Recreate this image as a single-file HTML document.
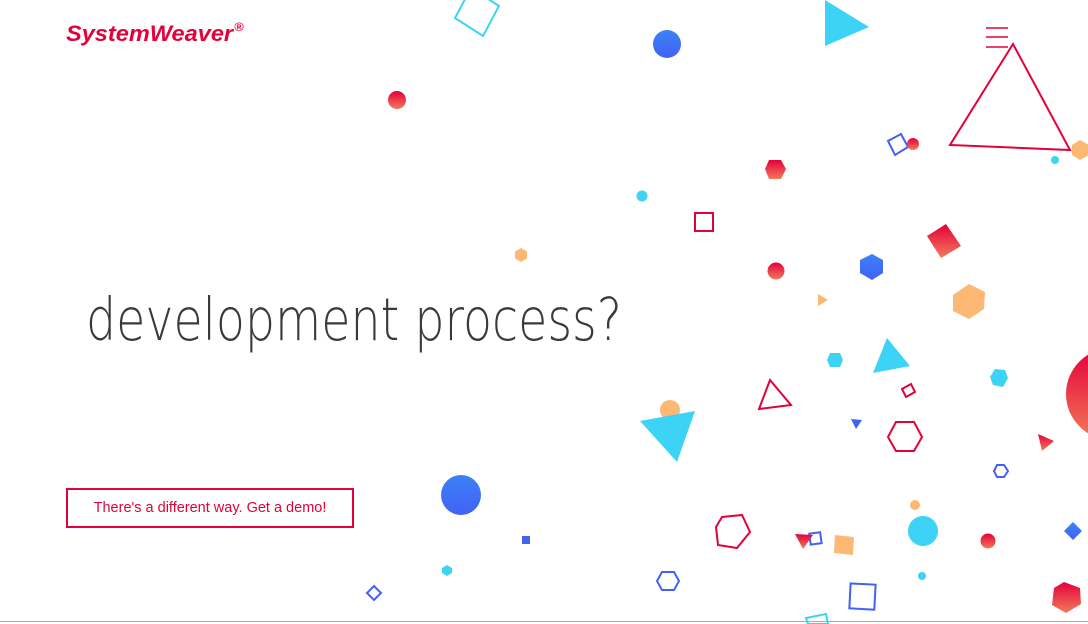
<!DOCTYPE html>
<html><head><meta charset="utf-8"><style>
html,body{margin:0;padding:0;background:#fff;width:1088px;height:624px;overflow:hidden;position:relative;font-family:"Liberation Sans",sans-serif}
.logo{position:absolute;left:66px;top:21px;font-size:22px;font-weight:bold;font-style:italic;color:#e4003a;transform:scaleX(1.07);transform-origin:0 0;white-space:nowrap}
.logo sup{font-size:12px;position:relative;top:-2px;margin-left:1px}
.btn{position:absolute;left:66px;top:488px;width:284px;height:36px;border:2px solid #e4003a;color:#e4003a;font-size:14.5px;text-align:center;line-height:37px}
svg{position:absolute;left:0;top:0}
</style></head><body>
<svg width="1088" height="624" viewBox="0 0 1088 624">
<defs>
<linearGradient id="r" x1="0" y1="0" x2="0" y2="1"><stop offset="0" stop-color="#e4003a"/><stop offset="1" stop-color="#f27a5a"/></linearGradient>
<linearGradient id="b" x1="0" y1="0" x2="0" y2="1"><stop offset="0" stop-color="#3b82f6"/><stop offset="1" stop-color="#4261f5"/></linearGradient>
</defs>
<g transform="translate(86 340) scale(1 1.15)"><text x="0" y="0" font-family="DejaVu Sans, sans-serif" font-weight="200" font-size="51" fill="#3a3a3a" textLength="536" lengthAdjust="spacingAndGlyphs">development process?</text></g>
<g fill="none" stroke-width="2">
<polygon points="455,18 483,36 499,6 471,-12" stroke="#3cd3f7"/>
<polygon points="1013,44 950,145 1070,150" stroke="#e4003a"/>
<polygon points="888,141 901,134 908,147 895,155" stroke="#4261f5"/>
<rect x="695" y="213" width="18" height="18" stroke="#e4003a"/>
<polygon points="902,389 911,384 915,392 906,397" stroke="#e4003a"/>
<polygon points="770,380 791,405 759,409" stroke="#e4003a"/>
<polygon points="896,422 914,422 922,437 914,451 896,451 888,437" stroke="#e4003a"/>
<polygon points="997,465 1004,465 1008,471 1004,477 997,477 994,471" stroke="#4261f5"/>
<polygon points="722,517 742,515 750,532 737,548 718,545 716,527" stroke="#e4003a"/>
<rect x="810" y="533" width="11" height="11" stroke="#4261f5" transform="rotate(-8 815 539)"/>
<polygon points="662,572 674,572 679,581 674,590 662,590 657,581" stroke="#4261f5"/>
<rect x="850" y="584" width="25" height="25" stroke="#4261f5" transform="rotate(3 862 596)"/>
<polygon points="374,586 381,593 374,600 367,593" stroke="#4261f5"/>
<polygon points="806,618 826,614 828,624 808,624" stroke="#3cd3f7"/>
</g>
<g stroke="#e4003a" stroke-width="1.5"><line x1="986" y1="28" x2="1008" y2="28"/><line x1="986" y1="37" x2="1008" y2="37"/><line x1="986" y1="47" x2="1008" y2="47"/></g>
<circle cx="397" cy="100" r="9" fill="url(#r)"/>
<polygon points="521,248 527,251.5 527,258.5 521,262 515,258.5 515,251.5" fill="#fdb874"/>
<circle cx="667" cy="44" r="14" fill="url(#b)"/>
<polygon points="825,0 869,27 825,46" fill="#3cd3f7"/>
<polygon points="1080,140 1089,145 1089,155 1080,160 1072,155 1072,145" fill="#fdb874"/>
<circle cx="1055" cy="160" r="4" fill="#3cd3f7"/>
<circle cx="913" cy="144" r="6" fill="url(#r)"/>
<polygon points="769,160 781,160 786,169 781,179 769,179 765,169" fill="url(#r)"/>
<circle cx="642" cy="196" r="5.5" fill="#3cd3f7"/>
<polygon points="927,236 946,224 961,246 941,258" fill="url(#r)"/>
<circle cx="776" cy="271" r="8.5" fill="url(#r)"/>
<polygon points="872,254 883,260 883,273 872,280 860,273 860,260" fill="url(#b)"/>
<polygon points="818,294 828,300 818,306" fill="#fdb874"/>
<polygon points="969,284 985,292 984,309 969,319 953,311 953,295" fill="#fdb874"/>
<polygon points="830,353 840,353 843,360 840,367 830,367 827,360" fill="#3cd3f7"/>
<polygon points="887,338 910,366 873,373" fill="#3cd3f7"/>
<polygon points="995,369 1005,370 1008,378 1003,387 993,385 990,377" fill="#3cd3f7"/>
<circle cx="1112" cy="394" r="46" fill="url(#r)"/>
<circle cx="670" cy="410" r="10" fill="#fdb874"/>
<polygon points="640,421 695,411 677,462" fill="#3cd3f7"/>
<polygon points="851,419 862,420 856,429" fill="#4261f5"/>
<polygon points="1038,434 1054,441 1042,451" fill="url(#r)"/>
<circle cx="461" cy="495" r="20" fill="url(#b)"/>
<circle cx="915" cy="505" r="5" fill="#fdb874"/>
<polygon points="795,534 813,535 803,549" fill="url(#r)"/>
<polygon points="835,535 854,537 853,555 834,553" fill="#fdb874"/>
<circle cx="923" cy="531" r="15" fill="#3cd3f7"/>
<circle cx="988" cy="541" r="7.5" fill="url(#r)"/>
<polygon points="1073,522 1082,531 1073,540 1064,531" fill="url(#b)"/>
<rect x="522" y="536" width="8" height="8" fill="#4261f5"/>
<polygon points="447,565 452,568 452,573 447,576 442,573 442,568" fill="#3cd3f7"/>
<circle cx="922" cy="576" r="4" fill="#3cd3f7"/>
<polygon points="1064,582 1080,588 1081,604 1066,613 1052,605 1054,588" fill="url(#r)"/>
<line x1="0" y1="621.5" x2="1088" y2="621.5" stroke="#aaa" stroke-width="1"/>
</svg>
<div class="logo">SystemWeaver<sup>®</sup></div>
<div class="btn">There's a different way. Get a demo!</div>
</body></html>
